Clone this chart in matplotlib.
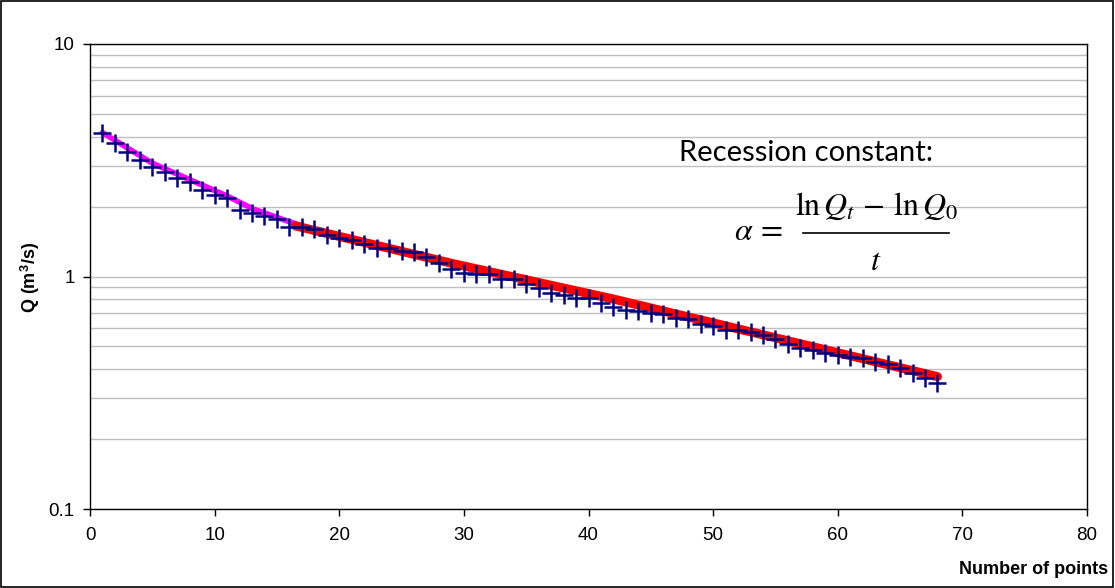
import matplotlib.pyplot as plt
from matplotlib.patches import Rectangle
from matplotlib.lines import Line2D
from matplotlib.ticker import FixedLocator, NullFormatter, FixedFormatter, LogLocator

# observed discharge, one value per point
points = list(range(1, 69))
discharge = [4.16, 3.74, 3.44, 3.17, 2.95, 2.82, 2.66, 2.56, 2.36, 2.24,
             2.17, 1.93, 1.87, 1.82, 1.77, 1.64, 1.64, 1.60, 1.51, 1.46,
             1.43, 1.38, 1.33, 1.32, 1.29, 1.27, 1.21, 1.14, 1.08, 1.04,
             1.025, 1.025, 0.98, 0.98, 0.926, 0.889, 0.852, 0.833, 0.806, 0.806,
             0.767, 0.742, 0.718, 0.713, 0.699, 0.690, 0.661, 0.655, 0.625, 0.611,
             0.589, 0.589, 0.575, 0.560, 0.537, 0.514, 0.491, 0.483, 0.467, 0.460,
             0.449, 0.445, 0.428, 0.419, 0.405, 0.383, 0.365, 0.349]

# early (fast) recession curve
early_x = [1, 5, 11, 13.1, 16, 17.6]
early_q = [4.16, 3.07, 2.22, 1.95, 1.72, 1.61]

# baseflow recession fit
fit_x = [16.5, 29, 42, 55, 68]
fit_q = [1.65, 1.14, 0.80, 0.545, 0.371]

plt.rcParams['font.family'] = ['Liberation Sans', 'DejaVu Sans']
plt.rcParams['mathtext.fontset'] = 'stix'

fig = plt.figure(figsize=(11.15, 5.88), dpi=100)
ax = fig.add_axes([90 / 1115, 79 / 588, 997 / 1115, 465 / 588])

ax.plot(early_x, early_q, color='#ff00ff', lw=4, solid_capstyle='round', zorder=2)
ax.plot(fit_x, fit_q, color='#ff0000', lw=6.5, solid_capstyle='round', zorder=3)
ax.plot(points, discharge, ls='none', marker='+', ms=13, mew=1.8,
        color='#000080', zorder=4)

ax.set_yscale('log')
ax.set_ylim(0.1, 10)
ax.set_xlim(0, 80)

ax.yaxis.set_major_locator(FixedLocator([0.1, 1, 10]))
ax.yaxis.set_major_formatter(FixedFormatter(['0.1', '1', '10']))
ax.yaxis.set_minor_locator(LogLocator(base=10, subs=range(2, 10)))
ax.yaxis.set_minor_formatter(NullFormatter())
ax.set_xticks(range(0, 81, 10))

ax.grid(True, axis='y', which='both', color='#c0c0c0', lw=1)
ax.set_axisbelow(True)
ax.tick_params(axis='both', which='major', direction='out', length=5,
               width=1, labelsize=13.5, colors='black')
ax.tick_params(axis='y', which='minor', length=0)
ax.tick_params(axis='x', pad=8)
ax.tick_params(axis='y', pad=6)
for s in ax.spines.values():
    s.set_color('black')
    s.set_linewidth(1)

fig.text(30 / 1115, 1 - 277 / 588, 'Q (m$^\\mathregular{3}$/s)', rotation=90, ha='center',
         va='center', fontsize=13, fontweight='bold')
fig.text(1108 / 1115, 1 - 570 / 588, 'Number of points', ha='right',
         va='center', fontsize=13, fontweight='bold')

fig.text(806 / 1115, 1 - 153 / 588, 'Recession constant:',
         ha='center', va='center', fontsize=21, family=['Lato', 'DejaVu Sans'])

# formula written as numerator / bar / denominator
fig.text(758 / 1115, 1 - 232 / 588, r'$\alpha\, =$', ha='center', va='center', fontsize=23)
fig.text(876 / 1115, 1 - 206 / 588, r'$\ln Q_t\, -\, \ln Q_0$', ha='center',
         va='center', fontsize=23)
fig.text(876 / 1115, 1 - 262 / 588, r'$t$', ha='center', va='center', fontsize=23)
fig.lines.append(Line2D([803 / 1115, 949 / 1115], [1 - 233 / 588, 1 - 233 / 588],
                        transform=fig.transFigure, color='black', lw=1.2))

fig.patches.append(Rectangle((0.001, 0.002), 0.997, 0.996, transform=fig.transFigure,
                             fill=False, edgecolor='black', lw=1.2))

fig.savefig('out.png', dpi=100)
